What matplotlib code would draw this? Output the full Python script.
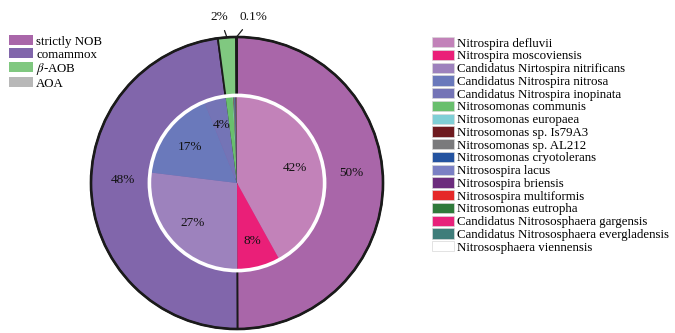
import matplotlib.pyplot as plt
from matplotlib.patches import Circle, Patch
import numpy as np

plt.rcParams["font.family"] = ["Liberation Serif", "DejaVu Serif"]
plt.rcParams["mathtext.fontset"] = "stix"

# outer ring: functional groups
group_names = ["strictly NOB", "comammox", r"$\beta$-AOB", "AOA"]
group_values = [50, 48, 2, 0.1]
group_labels = ["50%", "48%", "2%", "0.1%"]
group_colors = ["#a966a9", "#8166ab", "#80c880", "#b8b8b8"]

# inner pie: species
species_names = [
    "Nitrospira defluvii",
    "Nitrospira moscoviensis",
    "Candidatus Nirtospira nitrificans",
    "Candidatus Nitrospira nitrosa",
    "Candidatus Nitrospira inopinata",
    "Nitrosomonas communis",
    "Nitrosomonas europaea",
    "Nitrosomonas sp. Is79A3",
    "Nitrosomonas sp. AL212",
    "Nitrosomonas cryotolerans",
    "Nitrosospira lacus",
    "Nitrosospira briensis",
    "Nitrosospira multiformis",
    "Nitrosomonas eutropha",
    "Candidatus Nitrososphaera gargensis",
    "Candidatus Nitrososphaera evergladensis",
    "Nitrososphaera viennensis",
]
species_values = [42, 8, 27, 17, 4, 1.3, 0.1, 0.1, 0.1, 0.1, 0.1, 0.1,
                  0.05, 0.05, 0.03, 0.03, 0.04]
species_colors = [
    "#c282b9", "#ea1f78", "#9d82bd", "#6a79bb", "#7474b6", "#69bf6d",
    "#7fcfd6", "#6e1a1f", "#7a7a7c", "#2453a0", "#7b80c4", "#6c2c7d",
    "#e52828", "#2f7a3b", "#e8217b", "#3f7d7a", "#ffffff",
]

inner_r = 0.6

fig = plt.figure(figsize=(6.75, 3.33), dpi=100)
W, H = 675, 333
cx, cy, R = 237, 183, 146
side = 2 * R * 1.25
ax = fig.add_axes([(cx - side / 2) / W, (H - cy - side / 2) / H, side / W, side / H])

outer, _ = ax.pie(group_values, colors=group_colors, startangle=90, counterclock=False,
                  radius=1.0, wedgeprops=dict(edgecolor="#1a1a1a", linewidth=1.3))
ax.add_patch(Circle((0, 0), 1.0, fill=False, edgecolor="#1a1a1a", linewidth=1.9, zorder=3))


def inner_pct(p):
    return f"{p:.0f}%" if p >= 3 else ""


ax.pie(species_values, colors=species_colors, startangle=90, counterclock=False,
       radius=inner_r, autopct=inner_pct, pctdistance=0.68,
       wedgeprops=dict(linewidth=0), textprops=dict(fontsize=9.5, color="#111111"))
ax.add_patch(Circle((0, 0), inner_r, fill=False, edgecolor="white", linewidth=2.6, zorder=4))

# big group labels inside the ring
for w, lab in zip(outer[:2], group_labels[:2]):
    mid = np.deg2rad((w.theta1 + w.theta2) / 2)
    ax.text(0.78 * np.cos(mid), 0.78 * np.sin(mid) + 0.07, lab,
            ha="center", va="center", fontsize=9.5, color="#111111")

# small group labels above the pie with leader lines
for w, lab, dx in zip(outer[2:], group_labels[2:], [-0.12, 0.11]):
    mid = np.deg2rad((w.theta1 + w.theta2) / 2)
    ex, ey = np.cos(mid), np.sin(mid)
    ax.annotate(lab, xy=(ex, ey), xytext=(dx, 1.14), ha="center", va="center",
                fontsize=9.5, color="#111111",
                arrowprops=dict(arrowstyle="-", color="#1a1a1a", lw=0.9,
                                shrinkA=4, shrinkB=0))

ax.set_xlim(-1.25, 1.25)
ax.set_ylim(-1.25, 1.25)

left_handles = [Patch(facecolor=c, edgecolor="none") for c in group_colors]
fig.legend(left_handles, group_names, loc="upper left",
           bbox_to_anchor=(9 / W, 1 - 35 / H), frameon=False, fontsize=9.3,
           handlelength=1.85, handleheight=0.85, handletextpad=0.25,
           labelspacing=0.02, borderpad=0, borderaxespad=0)

right_handles = [Patch(facecolor=c, edgecolor="#d8d8d8", linewidth=0.5) for c in species_colors]
fig.legend(right_handles, species_names, loc="upper left",
           bbox_to_anchor=(432 / W, 1 - 37 / H), frameon=False, fontsize=9.3,
           handlelength=1.7, handleheight=0.85, handletextpad=0.22,
           labelspacing=0.01, borderpad=0, borderaxespad=0)

fig.savefig("out.png", dpi=100)
